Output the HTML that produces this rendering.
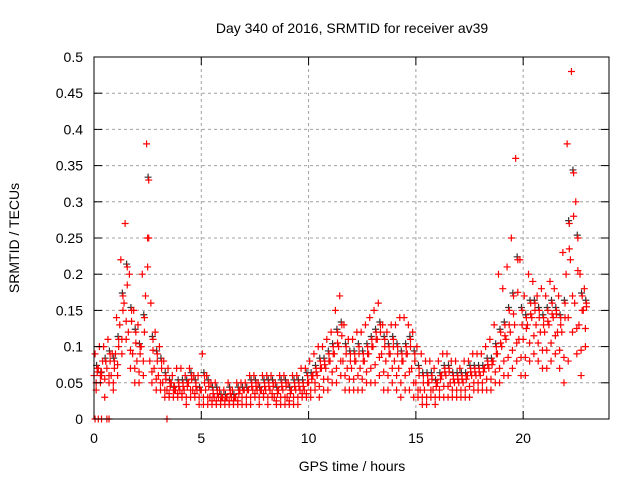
<!DOCTYPE html>
<html><head><meta charset="utf-8"><style>
body{margin:0;background:#fff}
svg{display:block;font-family:"Liberation Sans",sans-serif}
</style></head><body>
<svg id="c" width="640" height="480" xmlns="http://www.w3.org/2000/svg">
<text x="352" y="33" font-size="14" text-anchor="middle">Day 340 of 2016, SRMTID for receiver av39</text>
<text x="352" y="471" font-size="14" text-anchor="middle">GPS time / hours</text>
<text transform="translate(19,238) rotate(-90)" font-size="14" text-anchor="middle">SRMTID / TECUs</text>
<g id="grid"></g><g id="pts"></g><g id="axes"></g>
</svg>
<script>
const xTicks=[0,5,10,15,20];
const yTicks=[0,0.05,0.1,0.15,0.2,0.25,0.3,0.35,0.4,0.45,0.5];
const yTickLabels=["0","0.05","0.1","0.15","0.2","0.25","0.3","0.35","0.4","0.45","0.5"];
const hours=[0,0.2,0.4,0.6,0.8,1,1.2,1.4,1.6,1.8,2,2.2,2.4,2.6,2.8,3,3.2,3.4,3.6,3.8,4,4.2,4.4,4.6,4.8,5,5.2,5.4,5.6,5.8,6,6.2,6.4,6.6,6.8,7,7.2,7.4,7.6,7.8,8,8.2,8.4,8.6,8.8,9,9.2,9.4,9.6,9.8,10,10.2,10.4,10.6,10.8,11,11.2,11.4,11.6,11.8,12,12.2,12.4,12.6,12.8,13,13.2,13.4,13.6,13.8,14,14.2,14.4,14.6,14.8,15,15.2,15.4,15.6,15.8,16,16.2,16.4,16.6,16.8,17,17.2,17.4,17.6,17.8,18,18.2,18.4,18.6,18.8,19,19.2,19.4,19.6,19.8,20,20.2,20.4,20.6,20.8,21,21.2,21.4,21.6,21.8,22,22.2,22.4,22.6,22.8];
const seriesA=[6,7,8,7,6,9,13,16,12,9,8,10,17,8,7,6,5,4,5,4,4,4,5,4,4,4,4,3,3,3,3,3,3,3,4,4,4,4,4,4,4,4,3,4,4,3,4,4,4,4,5,6,6,7,7,8,9,10,8,7,7,8,7,8,9,10,11,9,8,9,8,7,8,9,7,5,4,4,5,4,5,6,6,5,5,5,5,6,6,6,6,7,7,8,9,10,11,12,13,11,11,13,14,13,12,12,13,14,12,12,20,22,16,13,15];
const seriesB=[9,10,10,11,9,14,22,27,20,15,13,20,38,16,12,10,8,7,6,7,7,6,7,6,6,9,6,5,5,4,4,5,4,5,5,5,6,6,5,6,6,6,5,6,6,5,6,6,7,7,8,9,10,10,11,12,15,17,13,11,11,12,12,13,14,15,16,13,12,13,13,14,14,13,12,10,9,8,8,7,8,9,9,8,8,7,8,8,9,9,9,10,11,13,20,18,21,25,36,22,17,20,19,17,18,17,19,18,17,23,38,48,30,20,18];
const seriesC=[4,5,3,5,4,6,9,11,7,5,5,6,25,5,4,4,3,3,3,3,3,2,3,3,2,2,2,2,2,2,2,2,2,2,2,2,2,3,2,3,2,3,2,2,2,2,2,2,3,3,3,4,3,4,4,5,5,6,4,4,4,4,4,5,5,5,6,4,4,5,4,3,4,4,3,3,2,2,3,2,3,3,3,3,3,3,3,3,4,4,4,4,4,5,5,6,6,7,8,6,6,8,9,8,7,7,8,9,7,5,8,12,9,6,10];
const seriesD=[7,6,8,9,8,11,17,21,15,12,10,14,33,11,9,8,6,5,4,5,5,5,6,5,4,6,5,4,4,3,3,4,3,4,4,4,5,5,4,5,5,5,4,5,5,4,5,5,5,6,6,7,8,8,9,10,12,13,10,9,9,10,9,10,11,12,13,11,10,11,10,9,10,11,9,7,6,6,6,5,6,7,7,6,6,6,6,7,7,7,7,8,8,10,12,13,15,17,22,15,14,16,16,15,14,15,16,15,14,16,27,34,25,17,16];
const zeroHours=[0.05,0.2,0.35,0.6,0.7,3.4];
const NS="http://www.w3.org/2000/svg";
const L=94,R=609,T=57,B=419;
const xs=h=>L+(R-L)*h/24, ys=v=>B-(B-T)*v/0.5;
function mk(tag,at,parent){const e=document.createElementNS(NS,tag);for(const k in at)e.setAttribute(k,at[k]);parent.appendChild(e);return e;}
const grid=document.getElementById('grid'),axes=document.getElementById('axes'),pts=document.getElementById('pts');
yTicks.forEach((v,i)=>{const y=ys(v);
 if(i>0&&i<yTicks.length-1){const g=mk('line',{x1:L,x2:R,y1:y,y2:y,stroke:'#a0a0a0','stroke-dasharray':'3,3'},grid);
 
 }
 mk('line',{x1:L,x2:L+8,y1:y,y2:y,stroke:'#000'},axes);mk('line',{x1:R,x2:R-8,y1:y,y2:y,stroke:'#000'},axes);
 const t=mk('text',{x:83,y:y+5,'font-size':14,'text-anchor':'end'},axes);t.textContent=yTickLabels[i];
 
 });
xTicks.forEach(h=>{const x=xs(h);
 if(h>0){const g=mk('line',{x1:x,x2:x,y1:T,y2:B,stroke:'#a0a0a0','stroke-dasharray':'3,3'},grid);
 
 }
 mk('line',{x1:x,x2:x,y1:B,y2:B-8,stroke:'#000'},axes);mk('line',{x1:x,x2:x,y1:T,y2:T+8,stroke:'#000'},axes);
 const t=mk('text',{x:x,y:443,'font-size':14,'text-anchor':'middle'},axes);t.textContent=String(h);
 
 });
const fr=mk('rect',{x:L,y:T,width:R-L,height:B-T,fill:'none',stroke:'#000'},axes);


function plus(h,v,col){const x=xs(h),y=ys(v);
 const p=mk('path',{d:`M${x-3.5},${y}h7M${x},${y-3.5}v7`,stroke:col,'stroke-width':1.2,fill:'none'},pts);
 
 }
hours.forEach((h,i)=>plus(h+0.12,seriesD[i]/100+0.004,'#333'));
[seriesA,seriesB,seriesC,seriesD].forEach((s,k)=>hours.forEach((h,i)=>plus(h+k*0.05,s[i]/100,'#f00')));
hours.forEach((h,i)=>plus(h+0.15,(seriesA[i]+seriesD[i])/200,'#f00'));
hours.forEach((h,i)=>plus(h+0.1,(seriesA[i]+seriesC[i])/200,'#f00'));
zeroHours.forEach(h=>plus(h,0,'#f00'));
</script>
</body></html>
